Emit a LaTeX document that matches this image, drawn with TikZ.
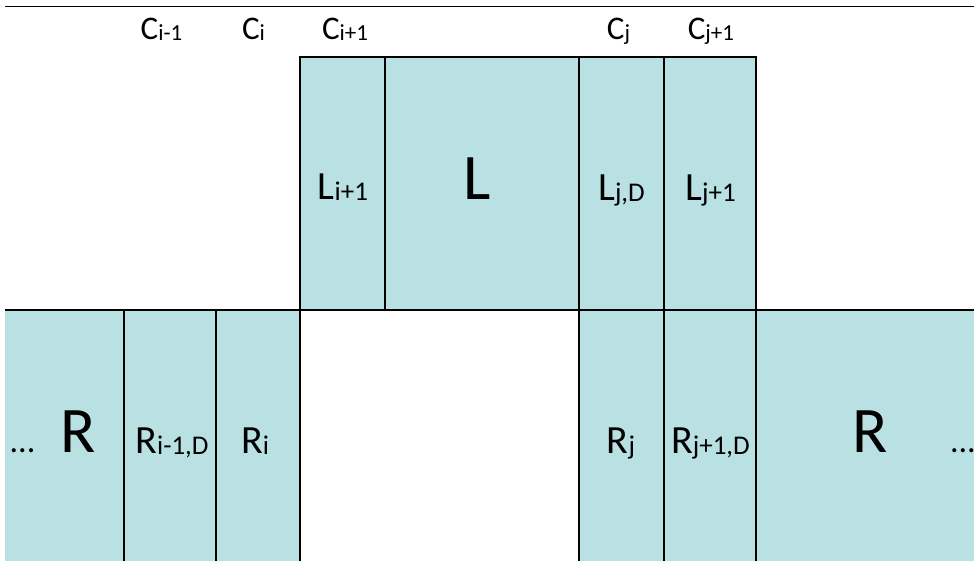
\documentclass[tikz,border=0pt]{standalone}
\usepackage{fontspec}
\setmainfont{Carlito}
\definecolor{cellblue}{RGB}{185,224,227}
\newcommand\toplab{\fontsize{33}{33}\selectfont}
\newcommand\boxlab{\fontsize{40}{40}\selectfont}
\newcommand\biglab{\fontsize{65}{65}\selectfont}
\newcommand\dotlab{\fontsize{34}{34}\selectfont}
\newcommand\subt[2]{\raisebox{-1.5pt}{\fontsize{#1}{#1}\selectfont #2}}
\tikzset{
  cell/.style={rectangle, fill=cellblue, draw=black, line width=1.2pt, inner sep=0pt, outer sep=0pt},
  cellfill/.style={rectangle, fill=cellblue, draw=none, inner sep=0pt, outer sep=0pt},
  upper/.style={cell, minimum height=253pt},
  lower/.style={cell, minimum height=290pt},
  edge/.style={draw=black, line width=1.2pt},
  lbl/.style={inner sep=0pt, outer sep=0pt, anchor=base, text=black}
}
\begin{document}
\begin{tikzpicture}[x=1pt,y=-1pt]
\useasboundingbox (0,0) rectangle (974,560);
% upper row
\node[upper, minimum width=85pt]  (li1)  at (342.5,183.5) {};
\node[upper, minimum width=194pt] (lbig) at (482,183.5) {};
\node[upper, minimum width=85pt]  (ljd)  at (621.5,183.5) {};
\node[upper, minimum width=92pt]  (lj1)  at (710,183.5) {};
% lower row
\node[cellfill, minimum width=119pt, minimum height=290pt] (rleft) at (64.5,455) {};
\draw[edge] (rleft.north west) -- (rleft.north east);
\node[lower, minimum width=92pt]  (ri1d)  at (170,455) {};
\node[lower, minimum width=84pt]  (ri)    at (258,455) {};
\node[lower, minimum width=85pt]  (rj)    at (621.5,455) {};
\node[lower, minimum width=92pt]  (rj1d)  at (710,455) {};
\node[lower, minimum width=244pt] (rright) at (878,455) {};
% top rule
\coordinate (tl) at (5,6.5);
\coordinate (tr) at (980,6.5);
\draw[edge] (tl) -- (tr);
% column labels
\node[lbl, font=\toplab] (cim1) at (161.5,39) {C\subt{23}{i-1}};
\node[lbl, font=\toplab] (ci)   at (253.5,39) {C\subt{23}{i}};
\node[lbl, font=\toplab] (cip1) at (345,39)   {C\subt{23}{i+1}};
\node[lbl, font=\toplab] (cj)   at (618.5,39) {C\subt{23}{j}};
\node[lbl, font=\toplab] (cjp1) at (711,39)   {C\subt{23}{j+1}};
% upper labels
\node[lbl, font=\boxlab] (tli1) at (343,199)   {L\subt{27}{i+1}};
\node[lbl, font=\biglab] (tl0)  at (477,199)   {L};
\node[lbl, font=\boxlab] (tljd) at (621.5,200) {L\subt{27}{j,D}};
\node[lbl, font=\boxlab] (tlj1) at (710.5,200) {L\subt{27}{j+1}};
% lower labels
\node[lbl, font=\dotlab] (dotl) at (22.5,452)  {...};
\node[lbl, font=\biglab] (trl)  at (78,452)    {R};
\node[lbl, font=\boxlab] (tri1d) at (172,453)  {R\subt{27}{i-1,D}};
\node[lbl, font=\boxlab] (tri)  at (255,453)   {R\subt{27}{i}};
\node[lbl, font=\boxlab] (trj)  at (621,453)   {R\subt{27}{j}};
\node[lbl, font=\boxlab] (trj1d) at (710.5,453) {R\subt{27}{j+1,D}};
\node[lbl, font=\biglab] (trr)  at (870.5,452)  {R};
\node[lbl, font=\dotlab, anchor=base west] (dotr) at (950,452) {...};
\end{tikzpicture}
\end{document}
